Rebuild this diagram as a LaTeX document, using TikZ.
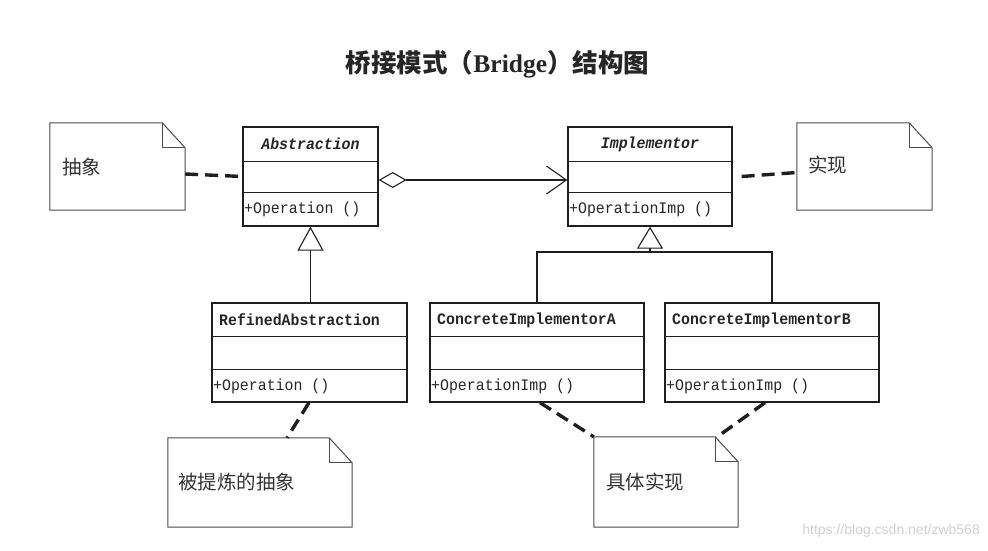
\documentclass[tikz,border=0pt]{standalone}
\usepackage{fontspec}
\setmainfont{Liberation Serif}
\newfontfamily\cjk{Noto Sans CJK SC}
\newfontfamily\clsfont[FakeStretch=0.93]{Liberation Mono}
\newfontfamily\wmfont{Liberation Sans}
\usetikzlibrary{arrows.meta}
\newcommand\dogear[1]{%
  \draw[notebd] (#1.north west) -- ([xshift=-23pt]#1.north east) -- ([yshift=-25pt]#1.north east) -- (#1.south east) -- (#1.south west) -- cycle;
  \draw[notebd] ([xshift=-23pt]#1.north east) |- ([yshift=-25pt]#1.north east);}
\begin{document}
\begin{tikzpicture}[x=1pt,y=-1pt,
  ln/.style={draw=black!88, line width=1.3pt},
  boxst/.style={ln, rectangle, inner sep=0pt},
  notest/.style={rectangle, inner sep=0pt},
  notebd/.style={draw=black!70, line width=1pt},
  dl/.style={draw=black!88, line width=3.4pt, dash pattern=on 13pt off 7pt},
  cname/.style={font=\clsfont\bfseries\fontsize{16}{19}\selectfont, text=black!85, inner sep=0pt},
  aname/.style={font=\clsfont\bfseries\itshape\fontsize{16}{19}\selectfont, text=black!85, inner sep=0pt},
  opst/.style={font=\clsfont\fontsize{16}{19}\selectfont, text=black!85, inner sep=0pt, anchor=west},
  notetxt/.style={font=\cjk\fontsize{19.5}{23}\selectfont, text=black!80, inner sep=0pt, anchor=west}]
\useasboundingbox (0,0) rectangle (988,551);
\fill[white] (0,0) rectangle (988,551);
% title
\node[inner sep=0pt, text=black!85] (title) at (497.5,64) {\fontsize{25.5}{30}\selectfont{\cjk\bfseries 桥接模式（}{\bfseries Bridge}{\cjk\bfseries ）结构图}};
% classes
\node[boxst, minimum width=135pt, minimum height=99pt] (abs) at (310.5,176.5) {};
\draw[ln] ([yshift=-35pt]abs.north west) -- ([yshift=-35pt]abs.north east);
\draw[ln] ([yshift=-66pt]abs.north west) -- ([yshift=-66pt]abs.north east);
\node[aname] (absT) at (310.5,144) {Abstraction};
\node[opst] (absO) at (244,209.5) {+Operation ()};

\node[boxst, minimum width=164pt, minimum height=99pt] (impl) at (650,176.5) {};
\draw[ln] ([yshift=-35pt]impl.north west) -- ([yshift=-35pt]impl.north east);
\draw[ln] ([yshift=-66pt]impl.north west) -- ([yshift=-66pt]impl.north east);
\node[aname] (implT) at (650,144) {Implementor};
\node[opst] (implO) at (569,209.5) {+OperationImp ()};

\node[boxst, minimum width=195pt, minimum height=99pt] (ref) at (309.5,352.5) {};
\draw[ln] ([yshift=-34pt]ref.north west) -- ([yshift=-34pt]ref.north east);
\draw[ln] ([yshift=-67pt]ref.north west) -- ([yshift=-67pt]ref.north east);
\node[cname, anchor=west] (refT) at (219,320) {RefinedAbstraction};
\node[opst] (refO) at (213,386) {+Operation ()};

\node[boxst, minimum width=214pt, minimum height=99pt] (cA) at (537,352.5) {};
\draw[ln] ([yshift=-34pt]cA.north west) -- ([yshift=-34pt]cA.north east);
\draw[ln] ([yshift=-67pt]cA.north west) -- ([yshift=-67pt]cA.north east);
\node[cname, anchor=west] (cAT) at (437,320) {ConcreteImplementorA};
\node[opst] (cAO) at (431,386) {+OperationImp ()};

\node[boxst, minimum width=214pt, minimum height=99pt] (cB) at (772,352.5) {};
\draw[ln] ([yshift=-34pt]cB.north west) -- ([yshift=-34pt]cB.north east);
\draw[ln] ([yshift=-67pt]cB.north west) -- ([yshift=-67pt]cB.north east);
\node[cname, anchor=west] (cBT) at (672,320) {ConcreteImplementorB};
\node[opst] (cBO) at (666,386) {+OperationImp ()};

% relations
\draw[draw=black!88, line width=1.1pt, {Diamond[open,length=28pt,width=16pt]}-{Straight Barb[length=20pt,width=28pt]}] (abs.east |- 0,180) -- (impl.west |- 0,180);
\draw[draw=black!88, line width=1.1pt, -{Triangle[open,length=24pt,width=26pt]}] (ref.north -| abs.south) -- (abs.south);
\coordinate (jn) at (650,252);
\draw[draw=black!88, line width=1.1pt] (cA.north) |- (jn) -| (cB.north);
\draw[draw=black!88, line width=1.1pt, -{Triangle[open,length=22pt,width=26pt]}] (jn) -- (impl.south);

% notes
\node[notest, minimum width=135pt, minimum height=87pt] (n1) at (117.5,166.5) {};
\dogear{n1}
\node[notetxt] (n1t) at (62,167) {抽象};
\node[notest, minimum width=135pt, minimum height=87pt] (n2) at (864.5,166.5) {};
\dogear{n2}
\node[notetxt] (n2t) at (808,165) {实现};
\node[notest, minimum width=184pt, minimum height=89pt] (n3) at (260,482.5) {};
\dogear{n3}
\node[notetxt] (n3t) at (178,482) {被提炼的抽象};
\node[notest, minimum width=144pt, minimum height=90pt] (n4) at (666,482) {};
\dogear{n4}
\node[notetxt] (n4t) at (606,482) {具体实现};

% note links
\draw[dl] ([yshift=-7.5pt]n1.east) -- (abs.west);
\draw[dl] ([xshift=9pt]impl.east) -- ([yshift=-6pt]n2.west);
\draw[dl] ([xshift=-0.5pt]ref.south) -- ([xshift=27pt]n3.north);
\draw[dl] ([xshift=3pt]cA.south) -- (n4.north west);
\draw[dl] ([xshift=-7pt]cB.south) -- ([xshift=-21pt]n4.north east);

% watermark
\node[font=\wmfont\fontsize{14}{16}\selectfont, text=black!18, anchor=east, inner sep=0pt] (wm) at (980,531) {https://blog.csdn.net/zwb568};
\end{tikzpicture}
\end{document}
